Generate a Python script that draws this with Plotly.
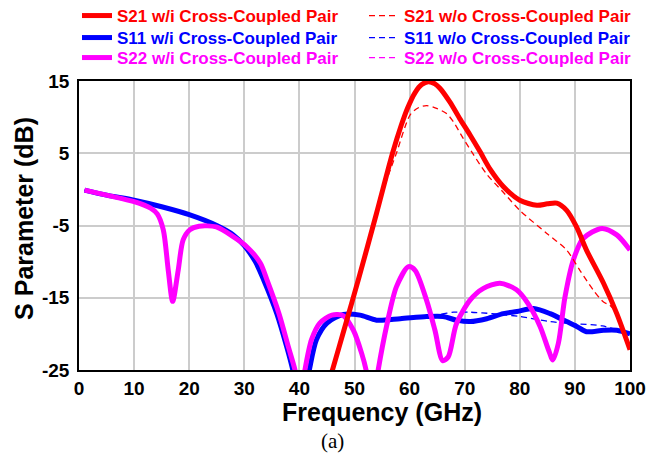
import plotly.graph_objects as go

# ---------------- data ----------------
s21_wi_f = [45.6, 46.0, 48.0, 50.7, 54.0, 56.9, 58.5, 59.6, 61.0, 62.2, 63.4, 64.6, 65.5, 67.3, 69.1, 71.0, 72.8, 74.6, 77.0, 80.0, 83.1, 85.0, 86.7, 88.5, 90.3, 92.1, 95.2, 97.6, 100]
s21_wi_db = [-26, -25, -19.7, -12.5, -3.3, 5.0, 8.9, 11.2, 13.4, 14.5, 14.9, 14.6, 14.0, 12.1, 9.8, 7.5, 5.2, 2.8, 0.4, -1.5, -2.2, -2.0, -1.9, -2.9, -5.2, -8.4, -13.0, -17.2, -22.2]

s21_wo_f = [45.6, 46.0, 48.0, 50.7, 54.0, 55.8, 57.6, 60.1, 61.6, 63.1, 64.9, 66.7, 67.9, 69.7, 71.6, 74.0, 77.0, 80.0, 84.9, 88.5, 90.9, 93.3, 95.2, 96.3, 97.6, 100]
s21_wo_db = [-26, -25, -19.7, -12.5, -3.3, 1.2, 5.0, 10.3, 11.3, 11.6, 11.2, 10.5, 9.4, 7.1, 4.8, 2.1, -0.4, -2.9, -6.1, -8.4, -11.2, -13.9, -15.6, -16.0, -17.2, -22.2]

s11_wi_f = [1, 5, 10, 15, 20, 25, 28, 30, 32, 33.5, 35.9, 37.7, 38.8, 39.2, None, 41.4, 41.8, 43.1, 45.0, 48.0, 51.0, 54.0, 58.3, 63.1, 66.1, 68.5, 71.0, 74.0, 77.0, 79.5, 82.5, 85.5, 88.5, 90.4, 92.1, 95.2, 97.6, 100]
s11_wi_db = [-0.1, -0.8, -1.5, -2.4, -3.5, -5.0, -6.3, -7.8, -10.0, -12.5, -17.2, -21.8, -25, -26.5, None, -26.5, -25, -20.8, -18.5, -17.3, -17.4, -18.1, -17.9, -17.6, -17.6, -18.1, -18.3, -17.9, -17.2, -16.9, -16.5, -17.2, -18.3, -19.0, -19.7, -19.5, -19.5, -20.0]

s11_wo_f = [1, 5, 10, 15, 20, 25, 28, 30, 32, 33.5, 35.9, 37.7, 38.8, 39.2, None, 41.4, 41.8, 43.1, 45.0, 48.0, 51.0, 54.0, 58.3, 63.1, 65.5, 68.0, 71.0, 75.0, 80.0, 85.5, 90.0, 95.0, 100]
s11_wo_db = [-0.1, -0.8, -1.5, -2.4, -3.5, -5.0, -6.3, -7.8, -10.0, -12.5, -17.2, -21.8, -25, -26.5, None, -26.5, -25, -20.8, -18.5, -17.3, -17.4, -18.1, -17.9, -17.6, -17.3, -17.0, -17.0, -17.2, -17.6, -18.3, -18.6, -18.9, -20.0]

s22_wi_f = [1, 5, 10, 13, 14.2, 15.3, 16.2, 17.0, 18.0, 18.9, 20.1, 21.8, 24.9, 27.9, 30.4, 32.9, 34.1, 36.3, 38.0, 39.2, 39.5, None, 40.7, 41.0, 42.2, 43.7, 45.9, 48.0, 49.8, 51.3, 52.1, 52.4, None, 54.0, 54.3, 55.8, 57.6, 59.8, 61.0, 63.1, 64.6, 66.0, 67.0, 68.5, 71.0, 73.4, 76.4, 79.4, 81.5, 83.7, 85.2, 86.0, 87.0, 88.2, 89.7, 91.5, 94.9, 97.6, 100]
s22_wi_db = [-0.1, -0.8, -1.7, -2.6, -3.4, -5.6, -11.2, -15.5, -11.2, -7.0, -5.6, -5.1, -5.2, -6.5, -7.9, -10.2, -12.5, -17.2, -21.8, -25, -26.5, None, -26.5, -25, -20.8, -18.5, -17.4, -17.5, -19.5, -22.7, -25, -26.5, None, -26.5, -25, -19.0, -13.5, -10.7, -11.2, -15.4, -19.5, -23.7, -23.2, -18.6, -15.3, -13.7, -13.0, -13.9, -15.8, -19.0, -22.2, -23.6, -21.3, -14.9, -9.8, -6.8, -5.4, -6.3, -8.4]

s22_wo_f = list(s22_wi_f)
s22_wo_db = list(s22_wi_db)

x_ticks = [0, 10, 20, 30, 40, 50, 60, 70, 80, 90, 100]
y_ticks = [15, 5, -5, -15, -25]

RED, BLUE, MAG = "#ff0000", "#0000ff", "#ff00ff"
FONT = "Liberation Sans, Arial, sans-serif"

# page body has an 8px margin, so the figure is 8px smaller than the window
W, H = 655, 446


def lab(text, color):
    return f"<span style='color:{color}'><b>{text}</b></span>"


fig = go.Figure()

# (x, y, colour, style, name, legend id) in drawing order, bottom to top
traces = [
    (s22_wo_f, s22_wo_db, MAG, "dash", "S22 w/o Cross-Coupled Pair", "legend6"),
    (s11_wo_f, s11_wo_db, BLUE, "dash", "S11 w/o Cross-Coupled Pair", "legend4"),
    (s11_wi_f, s11_wi_db, BLUE, "solid", "S11 w/i Cross-Coupled Pair", "legend3"),
    (s22_wi_f, s22_wi_db, MAG, "solid", "S22 w/i Cross-Coupled Pair", "legend5"),
    (s21_wo_f, s21_wo_db, RED, "dash", "S21 w/o Cross-Coupled Pair", "legend2"),
    (s21_wi_f, s21_wi_db, RED, "solid", "S21 w/i Cross-Coupled Pair", "legend"),
]
for xs, ys, col, style, name, leg in traces:
    solid = style == "solid"
    fig.add_trace(go.Scatter(
        x=xs, y=ys, mode="lines", name=lab(name, col), legend=leg,
        line=dict(color=col, width=5 if solid else 1.3,
                  dash="solid" if solid else "6px,4px",
                  shape="spline", smoothing=0.8),
        connectgaps=False,
    ))


def leg(col, row):
    xs = [69, 356]
    centers = [8, 30, 50]
    return dict(orientation="v", xref="container", yref="container",
                xanchor="left", yanchor="middle",
                x=xs[col] / W, y=1 - centers[row] / H,
                font=dict(family=FONT, size=17), tracegroupgap=0,
                itemwidth=30, bgcolor="rgba(0,0,0,0)", borderwidth=0)


fig.update_layout(
    width=W, height=H,
    margin=dict(l=71, r=33, t=73, b=84, autoexpand=False),
    paper_bgcolor="white", plot_bgcolor="white",
    font=dict(family=FONT, color="black"),
    showlegend=True,
    legend=leg(0, 0), legend2=leg(1, 0),
    legend3=leg(0, 1), legend4=leg(1, 1),
    legend5=leg(0, 2), legend6=leg(1, 2),
    xaxis=dict(range=[0, 100], tickvals=x_ticks, ticktext=[str(v) for v in x_ticks],
               showgrid=True, gridcolor="#cccccc", gridwidth=1.5,
               showline=True, linecolor="black", linewidth=1.5, mirror=True,
               ticks="", zeroline=False,
               tickfont=dict(family=FONT, size=19, weight="bold", color="black")),
    yaxis=dict(range=[-25, 15], tickvals=y_ticks, ticktext=[str(v) for v in y_ticks],
               showgrid=True, gridcolor="#cccccc", gridwidth=1.5,
               showline=True, linecolor="black", linewidth=1.5, mirror=True,
               ticks="", zeroline=False, ticklabelstandoff=4,
               tickfont=dict(family=FONT, size=19, weight="bold", color="black")),
    annotations=[
        dict(text="<b>Frequency (GHz)</b>", xref="paper", yref="paper",
             x=0.55, y=-0.145, xanchor="center", yanchor="middle", showarrow=False,
             font=dict(family=FONT, size=25, color="black")),
        dict(text="<b>S Parameter (dB)</b>", xref="paper", yref="paper",
             x=-0.1, y=0.526, xanchor="center", yanchor="middle", showarrow=False,
             textangle=-90, font=dict(family=FONT, size=25, color="black")),
        dict(text="(a)", xref="paper", yref="paper",
             x=(332 - 79) / 551, y=-(441 - 370) / 289, xanchor="center", yanchor="middle",
             showarrow=False,
             font=dict(family="Liberation Serif, Times New Roman, serif", size=21, color="black")),
    ],
)

fig.write_html("out.html")
